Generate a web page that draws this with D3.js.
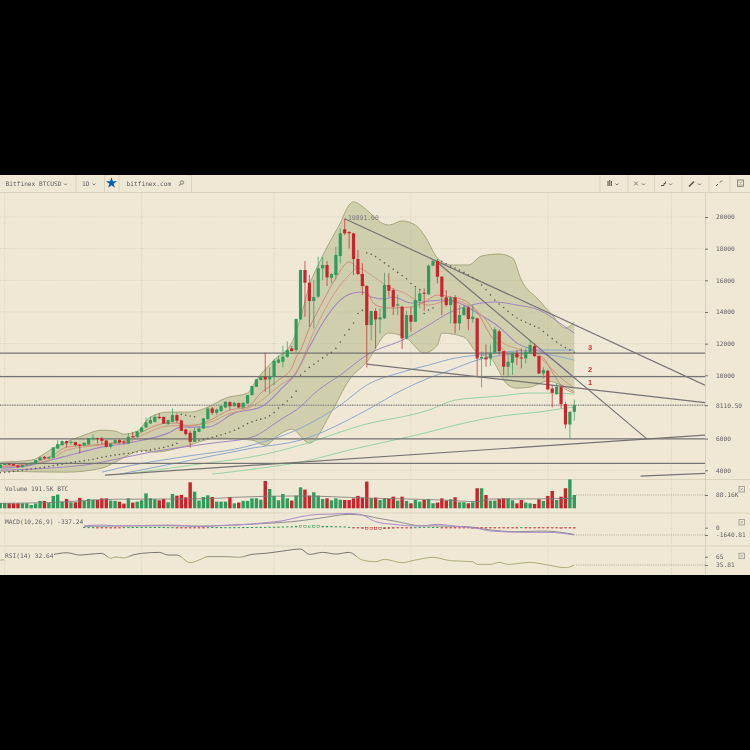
<!DOCTYPE html>
<html><head><meta charset="utf-8">
<script src="https://cdn.jsdelivr.net/npm/d3@7"></script>
<style>
html,body{margin:0;padding:0;background:#000;width:750px;height:750px;overflow:hidden}
svg{display:block;filter:blur(0.35px)}
text{font-family:"DejaVu Sans Mono",monospace;font-size:6.2px;fill:#5f5f5f}
</style></head><body>
<script>
const opens=[4157,4370,4410,4390,4300,4190,4330,4380,4430,4640,4850,4750,4790,5379,5589,5842,5737,5779,5632,5570,5632,6011,6032,6011,5884,5484,5716,5905,5821,5695,6158,6116,6432,6706,6960,7060,7380,7370,6916,7064,7485,7150,6580,6370,5800,6430,6640,7232,7906,7630,7738,7970,8300,8050,8240,7970,8220,8750,9276,9700,9908,9740,9908,10800,10856,11170,11698,11593,13530,16650,15850,14690,14964,16755,16965,16165,16333,17534,19220,19050,18967,17345,16397,15638,13173,14058,13530,13594,15700,15385,14400,14332,12330,13805,13384,14690,15217,15112,16924,17219,16228,14922,14437,14922,13278,13805,14290,13553,13595,11066,11130,11066,11424,12780,11520,10540,10793,11425,11130,11067,11425,11847,11215,10119,10288,9170,8813,9276,8180,6895,7696];
const closes=[4370,4400,4390,4300,4190,4330,4380,4430,4640,4810,4750,4830,5442,5653,5842,5695,5800,5589,5547,5737,6032,6053,5990,5863,5484,5695,5905,5758,5758,6116,6095,6453,6706,7022,7170,7380,7300,6950,7169,7485,7130,6495,6285,5800,6495,6640,7280,7906,7630,7840,8054,8328,8050,8265,7970,8265,8750,9320,9740,9950,9740,9908,10920,11000,11170,11593,11530,13552,16650,15850,14690,14943,16755,16965,16186,16397,17597,18967,18967,18970,17345,16397,15638,13173,14058,13530,13657,15701,15343,14331,14480,12330,13805,13384,14754,15175,15175,16924,17219,16228,14964,14437,14922,13278,13805,14290,13553,13700,11066,11172,11003,11424,12900,11520,10540,10856,11425,11130,11067,11488,11910,11215,10119,10330,9107,8897,9276,8180,6895,7696,8117];
const highs=[4400,4420,4470,4420,4340,4350,4400,4480,4650,4900,4900,4880,5450,5905,5890,5880,5860,5800,5680,5780,6040,6264,6060,6120,5900,5710,5920,5950,5900,6327,6430,6480,6730,7338,7400,7500,7600,7400,7200,7907,7600,7200,6620,6500,6700,6800,7300,7990,8000,7900,8100,8360,8370,8330,8290,8300,8770,9340,9760,9990,11425,10500,11000,11250,11870,12150,11850,13600,16680,17218,16340,16017,17490,17490,17220,16450,18120,19280,19891,19110,19000,17914,17070,15700,14060,14226,14226,16480,16439,15500,15100,14400,14050,14330,15533,15490,15490,17000,17324,17240,16260,15380,15000,15070,14440,14440,14370,14440,13650,11500,11950,11950,13025,12900,11520,11383,11450,11594,11700,11700,12226,12015,11250,10500,10350,9387,9487,9387,8330,7720,8475];
const lows=[4140,4340,4370,4280,4160,4170,4310,4360,4420,4620,4700,4720,4780,5350,5570,5442,5600,5530,5063,5530,5620,5880,5695,5632,5440,5380,5690,5690,5620,5650,6050,6070,6400,6690,6940,7040,7240,6930,6880,7040,7000,6480,6200,5440,5780,6400,6600,7190,7490,7500,7700,7930,7800,7990,7940,7860,8200,8730,9250,9680,8960,8855,9380,10750,10500,11100,11500,11400,13500,13700,13067,12960,14900,16000,15640,15800,16060,17070,18860,18019,16333,16330,15069,10500,12200,11700,12646,13560,14964,13800,13800,11660,12250,12750,13360,14230,14080,15080,16900,15807,13805,14330,13280,12646,12850,13750,12850,13320,9950,9233,10540,10600,11380,11300,10014,9908,10014,10646,10435,10750,11340,11150,10080,9800,9050,7970,8750,7907,6642,6010,7127];
const volumes=[35,35,33,33,33,33,33,22,31,49,49,35,82,91,44,62,40,40,69,49,62,57,55,66,66,51,49,44,31,66,38,44,53,99,66,60,53,62,40,95,84,88,73,172,110,51,75,86,75,44,44,44,75,33,38,49,49,66,66,57,181,128,82,53,95,66,51,84,139,124,84,106,84,62,66,53,66,57,55,55,66,82,71,177,66,71,55,66,62,77,51,77,49,33,55,44,55,62,33,38,66,51,60,73,40,40,33,40,133,133,88,51,51,62,66,66,53,33,55,38,33,29,60,49,82,115,55,77,133,191.5,88.16];
const volumeAvgIdx=[0,11,26,42,49,53,68,75,85,92,100,108,111,119,130];
const volumeAvg=[33,38,60,62,66,73,82,77,66,62,55,44,62,62,66];
const sarDots=[3850,3870,3900,3930,3960,4000,4040,4080,4120,4160,4200,4240,4290,4340,4390,4440,4490,4530,4570,4610,4650,4700,4760,4820,4870,4920,4960,5000,5040,5080,5120,5160,5200,5240,5290,5340,5390,5450,5520,5590,5700,7530,7480,7430,7380,5900,5960,6020,6090,6160,6230,6320,6420,6530,6650,6800,6950,7060,7160,7230,7300,7450,7650,7930,8150,8380,8620,9000,10014,10250,10500,10700,10900,11100,11280,11450,11700,12100,12540,12900,13300,13900,14100,17724,17650,17500,17300,17100,16900,16700,16500,16300,16100,15800,15600,15400,13900,14120,14250,17280,17200,17050,16900,16780,16650,16500,16350,16180,16018,15700,15400,15080,14754,14500,14280,14040,13820,13616,13480,13350,13220,13100,12984,12760,12540,12320,12100,11900,11750,11600,11460];
const bandUpperIdx=[0,7,12,19,23,26,28,31,34,38,43,47,51,56,58,62,66,68,70,72,74,77,79,80,83,86,88,91,94,96,99,102,106,109,113,116,118,122,125,128,130];
const bandUpper=[4516,4642,5400,6222,6538,6475,6285,6475,7360,7676,7676,7990,8560,8880,9700,10960,12040,13620,15700,16970,18100,19620,20760,20950,20440,19680,19490,19750,19490,18860,17410,16970,16970,17535,17660,17410,16020,14750,13800,12985,13360];
const bandLowerIdx=[0,15,23,26,29,32,35,42,49,57,60,63,66,70,75,79,83,88,92,96,99,100,105,108,111,115,117,120,124,127,130];
const bandLower=[3947,3884,4137,4516,4958,5274,5148,5527,6033,5906,5590,6222,6600,5716,7676,9700,10836,12670,12353,11405,11910,12670,12416,11405,11090,9382,9193,9256,9636,9382,8940];
const fastIdx=[0,7,12,15,23,29,32,38,40,43,47,52,56,59,63,66,67,68,70,73,76,79,81,83,85,88,93,96,99,102,105,108,111,114,117,120,123,125,127,130];
const fastAvg=[4263,4453,4958,5464,5653,5906,6412,6980,6980,6791,7107,7802,7992,8878,9698,10456,11152,11594,12984,14628,16144,17156,16650,15386,14438,14248,14312,14628,15070,14944,14754,13996,12542,11594,11215,11468,11088,10204,9382,8878];
const slowIdx=[0,7,12,15,23,29,32,38,43,47,52,56,59,63,67,71,75,79,81,84,88,91,97,102,106,110,113,118,122,127,130];
const slowAvg=[4230,4390,4770,5270,5600,5800,6200,6800,6850,6980,7600,7900,8400,9300,10204,12732,14880,16334,16776,16334,15576,15260,14438,14754,14438,13490,12226,11594,11152,9824,9192];
const purpleAIdx=[0,7,14,23,30,38,41,47,53,59,64,67,70,73,77,80,82,84,87,89,93,100,105,108,113,117,123,130];
const purpleA=[4136,4326,4832,5464,5780,6348,6728,6728,7612,7992,9256,10140,11784,13300,14754,15196,15260,14944,14817,14944,14564,14754,14438,13932,13048,12036,11404,9824];
const purpleBIdx=[0,19,23,34,48,57,64,67,72,77,83,92,97,102,105,112,117,122,128,130];
const purpleB=[4010,4326,4516,5148,5716,6096,7296,7802,9066,10014,11278,12352,13174,13996,14312,14628,14438,14122,13048,12668];
const blueAIdx=[23,30,41,57,68,77,83,91,97,103,108,114,122,130];
const blueA=[3884,4326,4832,5590,6664,8118,9382,10204,10646,11088,11278,11468,11594,11594];
const blueBIdx=[27,41,57,68,83,91,97,102,108,114,120,130];
const blueB=[3757,4516,5400,5906,7802,9066,9824,10330,10962,11278,11404,10962];
const greenAIdx=[30,45,59,68,82,97,103,113,120,125,130];
const greenA=[3820,4389,4958,5590,6854,7802,8434,8687,8878,8878,8814];
const greenBIdx=[48,59,68,79,97,105,115,122,128,130];
const greenB=[3757,4136,4516,5274,6412,6980,7486,7676,7928,7992];
const levels=[11405,9920,5990,4434];
const lastPrice=8110.5;
const trendA=[[78,19891],[159.6,9382]];
const trendB=[[98.9,17156],[146.5,5970]];
const trendC=[[83,10710],[159.6,8276]];
const trendD=[[23.7,3694],[159.6,6222]];
const trendE=[[145,3631],[159.6,3802]];
const priceTicks=[4000,6000,10000,12000,14000,16000,18000,20000];
const monthCandles=[1,32,62,93,124,152];
const macdIdx=[19,23,26,30,38,42,45,49,57,60,64,68,72,75,79,82,85,89,95,99,104,108,111,119,124,130];
const macdLine=[448,598,448,448,598,448,224,448,822,1120,1569,2465,2988,3063,3212,2839,1345,747,374,747,224,-149,-747,-1046,-1046,-1643];
const signalIdx=[19,38,45,53,60,66,72,79,82,85,90,95,100,106,110,117,123,130];
const signalLine=[300,448,374,598,975,1345,2091,2988,2839,2240,1345,448,374,224,-374,-896,-747,-1494];
const histStart=19;
const histogram=[60,40,30,-30,-40,-60,-50,-40,-30,40,50,60,70,80,90,90,80,70,60,40,30,-20,-60,-120,-200,-220,-180,-100,30,60,50,40,30,30,30,40,50,60,70,80,90,100,110,120,150,180,200,220,300,400,380,300,420,350,300,300,260,220,220,180,100,-50,-180,-300,-420,-500,-520,-480,-350,-300,-260,-200,-180,-120,-60,30,60,90,100,80,60,-30,-50,-30,-80,-120,-180,-220,-240,-260,-230,-260,-200,-180,-120,-90,-50,-30,-60,30,-40,-50,-60,-100,-140,-160,-170,-190,-200,-220,-240,-250];
const histHollow=[68,69,70,71,72,83,84,85,86,107,108,127];
const rsiIdx=[0,12,15,18,20,23,25,26,28,30,32,36,38,40,43,45,47,51,54,57,60,64,68,70,73,76,79,82,85,87,91,94,98,102,107,108,111,113,115,120,124,128,130];
const rsiVals=[53,73.2,79,70.8,73.2,76.7,59.2,63.8,60.5,70.8,76.7,80.2,70.8,70.8,44,53.3,65,65,62.7,73.2,76.7,84.9,91.9,73.2,80.2,74.3,80.2,53.3,47.5,55.7,44,53.3,62.7,51,47.5,38,38,45,38,45,35.8,26.5,35.8];
const volumeTick=88.16, macdTicks=[0,-1640.81], rsiTicks=[65,35.81];
const sideLabels=[["3",11620],["2",10240],["1",9360]];

const W=750,H=750;
const paper="#efe8d5",gridC="#d9d2b9",lineC="#767473",green="#2f9c5c",red="#c8242e";
const svg=d3.select("body").append("svg").attr("width",W).attr("height",H);
svg.append("rect").attr("width",W).attr("height",H).attr("fill","#000");
svg.append("rect").attr("y",175).attr("width",W).attr("height",400).attr("fill",paper);

const x=d3.scaleLinear().domain([0,130]).range([0.3,574.3]);
const y=d3.scaleLinear().domain([4000,20000]).range([470.3,217]);
const yVol=d3.scaleLinear().domain([0,191.5]).range([508.3,479.4]);
const yMacd=d3.scaleLinear().domain([-1640.81,0]).range([535,527.7]);
const yRsi=d3.scaleLinear().domain([35.81,65]).range([565,556.7]);

const defs=svg.append("defs");
defs.append("clipPath").attr("id","main").append("rect").attr("x",0).attr("y",193).attr("width",705).attr("height",285);

// grid
const grid=svg.append("g");
grid.selectAll("line.h").data(priceTicks).join("line").attr("x1",0).attr("x2",705).attr("y1",d=>y(d)).attr("y2",d=>y(d))
 .attr("stroke",gridC).attr("stroke-dasharray","1 1.5");
grid.selectAll("line.v").data(monthCandles).join("line").attr("x1",d=>x(d)).attr("x2",d=>x(d)).attr("y1",193).attr("y2",575)
 .attr("stroke",gridC).attr("stroke-dasharray","1 1.5");

// price pane
const main=svg.append("g").attr("clip-path","url(#main)");
const zip=(a,b)=>a.map((d,i)=>[d,b[i]]);
const up=zip(bandUpperIdx,bandUpper), lo=zip(bandLowerIdx,bandLower);
const curve=d3.curveMonotoneX;
const pl=d3.line().x(d=>x(d[0])).y(d=>y(d[1])).curve(curve);
// band: upper edge forward, lower edge back
main.append("path").attr("d",pl(up)+"L"+pl(lo.slice().reverse()).slice(1)+"Z").attr("fill","#8d9a5e").attr("fill-opacity",0.32);
main.append("path").attr("d",pl(up)).attr("fill","none").attr("stroke","#a5a87f").attr("stroke-width",1);
main.append("path").attr("d",pl(lo)).attr("fill","none").attr("stroke","#a5a87f").attr("stroke-width",1);

const maLine=(idx,vals,c,w)=>main.append("path").attr("d",pl(zip(idx,vals))).attr("fill","none").attr("stroke",c).attr("stroke-width",w);
maLine(greenAIdx,greenA,"#98d3a4",1);
maLine(greenBIdx,greenB,"#98d3a4",1);
maLine(blueAIdx,blueA,"#8fa9cc",1);
maLine(blueBIdx,blueB,"#8fa9cc",1);
maLine(purpleBIdx,purpleB,"#a287bd",1);
maLine(purpleAIdx,purpleA,"#a287bd",1.1);
maLine(slowIdx,slowAvg,"#d19a84",1);
maLine(fastIdx,fastAvg,"#cf8a78",1);

// horizontals and trend lines
main.selectAll("line.lvl").data(levels).join("line").attr("x1",0).attr("x2",705).attr("y1",d=>y(d)).attr("y2",d=>y(d)).attr("stroke",lineC).attr("stroke-width",1.2);
main.append("line").attr("x1",0).attr("x2",705).attr("y1",y(lastPrice)).attr("y2",y(lastPrice)).attr("stroke","#8f8d88").attr("stroke-width",1.6).attr("stroke-dasharray","1 0.7");
const tl=d3.line().x(d=>x(d[0])).y(d=>y(d[1]));
[trendA,trendB,trendC,trendD,trendE].forEach(t=>main.append("path").attr("d",tl(t)).attr("fill","none").attr("stroke",lineC).attr("stroke-width",1.2));

// dots
main.selectAll("circle.sar").data(sarDots).join("circle").attr("cx",(d,i)=>x(i)).attr("cy",d=>y(d)).attr("r",0.8).attr("fill","#5c5c50");

// candles
const idx=d3.range(closes.length);
const colorOf=i=>closes[i]>=opens[i]?green:red;
const c=main.append("g");
c.selectAll("line").data(idx).join("line").attr("x1",i=>x(i)).attr("x2",i=>x(i)).attr("y1",i=>y(highs[i])).attr("y2",i=>y(lows[i])).attr("stroke",colorOf).attr("stroke-width",0.9).attr("stroke-opacity",0.8);
c.selectAll("rect").data(idx).join("rect").attr("x",i=>x(i)-1.6).attr("width",3.2).attr("y",i=>y(Math.max(opens[i],closes[i]))).attr("height",i=>Math.max(1,Math.abs(y(opens[i])-y(closes[i])))).attr("fill",colorOf);

// side labels
main.selectAll("text.s").data(sideLabels).join("text").attr("x",590).attr("y",d=>y(d[1])).attr("text-anchor","middle")
 .style("font-family","'Liberation Sans',sans-serif").style("font-size","7.5px").style("font-weight","700").style("fill","#d1343a").text(d=>d[0]);
main.append("text").attr("x",348).attr("y",220).text("19891.00").style("fill","#7c7a72").style("font-size","6.4px");

// separators
[192.5,479.5,513,546].forEach(v=>svg.append("line").attr("x1",0).attr("x2",W).attr("y1",v).attr("y2",v).attr("stroke","#dbd4bc").attr("stroke-width",1));
svg.append("line").attr("x1",705.5).attr("x2",705.5).attr("y1",193).attr("y2",575).attr("stroke","#d6cfb7");

// volume
const vg=svg.append("g");
vg.selectAll("rect").data(idx).join("rect").attr("x",i=>x(i)-1.7).attr("width",3.4).attr("y",i=>yVol(volumes[i])).attr("height",i=>yVol(0)-yVol(volumes[i])).attr("fill",colorOf);
const ln=(sc)=>d3.line().x(d=>x(d[0])).y(d=>sc(d[1])).curve(curve);
vg.append("path").attr("d",ln(yVol)(zip(volumeAvgIdx,volumeAvg))).attr("fill","none").attr("stroke","#7a7a72").attr("stroke-width",0.8);
const dotted=(yy)=>svg.append("line").attr("x1",x(130)+2).attr("x2",705).attr("y1",yy).attr("y2",yy).attr("stroke","#b4ae98").attr("stroke-dasharray","1 1.2");
dotted(yVol(volumeTick)); dotted(yMacd(macdTicks[1])); dotted(yRsi(rsiTicks[1]));

// macd
const mg=svg.append("g");
const hist=histogram.map((v,k)=>[k+histStart,v]);
mg.selectAll("rect").data(hist).join("rect").attr("x",d=>x(d[0])-1.2).attr("width",2.4)
 .attr("y",d=>Math.min(yMacd(d[1]),yMacd(0))-0.4).attr("height",d=>Math.max(1,Math.abs(yMacd(d[1])-yMacd(0))))
 .attr("fill",d=>histHollow.includes(d[0])?"none":(d[1]>=0?green:red))
 .attr("stroke",d=>histHollow.includes(d[0])?(d[1]>=0?green:red):"none").attr("stroke-width",0.5);
mg.append("path").attr("d",ln(yMacd)(zip(signalIdx,signalLine))).attr("fill","none").attr("stroke","#77767a").attr("stroke-width",0.8);
mg.append("path").attr("d",ln(yMacd)(zip(macdIdx,macdLine))).attr("fill","none").attr("stroke","#a98cc9").attr("stroke-width",1);

// rsi: darker above the 65 mark
const rsiPath=ln(yRsi)(zip(rsiIdx,rsiVals));
defs.append("clipPath").attr("id","rhi").append("rect").attr("x",0).attr("y",546).attr("width",705).attr("height",yRsi(65)-546);
defs.append("clipPath").attr("id","rlo").append("rect").attr("x",0).attr("y",yRsi(65)).attr("width",705).attr("height",575-yRsi(65));
svg.append("path").attr("d",rsiPath).attr("clip-path","url(#rlo)").attr("fill","none").attr("stroke","#a3a56d").attr("stroke-width",0.9);
svg.append("path").attr("d",rsiPath).attr("clip-path","url(#rhi)").attr("fill","none").attr("stroke","#6b6a62").attr("stroke-width",0.9);

// axes
const axisStyle=g=>{g.select(".domain").remove();g.selectAll("line").attr("stroke","#77756d");g.selectAll("text").attr("fill","#5f5f5f");};
const axR=d3.axisRight(y).tickValues(priceTicks).tickSize(3).tickPadding(8).tickFormat(d3.format("d"));
svg.append("g").attr("transform","translate(705,0)").call(axR).call(axisStyle);
svg.append("g").attr("transform","translate(705,0)").call(d3.axisRight(y).tickValues([lastPrice]).tickSize(3).tickPadding(8).tickFormat(d3.format(".2f"))).call(axisStyle);
svg.append("g").attr("transform","translate(705,0)").call(d3.axisRight(yVol).tickValues([volumeTick]).tickSize(3).tickPadding(8).tickFormat(d=>d+"K")).call(axisStyle);
svg.append("g").attr("transform","translate(705,0)").call(d3.axisRight(yMacd).tickValues(macdTicks).tickSize(3).tickPadding(8).tickFormat(d=>d===0?"0":d.toFixed(2))).call(axisStyle);
svg.append("g").attr("transform","translate(705,0)").call(d3.axisRight(yRsi).tickValues(rsiTicks).tickSize(3).tickPadding(8).tickFormat(d=>""+d)).call(axisStyle);

// pane legends, on a patch of paper that hides the line beneath
const leg=(t,yy,w)=>{
  svg.append("rect").attr("x",4).attr("y",yy-6).attr("width",w).attr("height",8).attr("fill",paper).attr("fill-opacity",w>60?0:1);
  svg.append("text").attr("x",5).attr("y",yy).text(t);
};
leg("Volume 191.5K BTC",491,70);
leg("MACD(10,26,9) -337.24",524,78);
leg("RSI(14) 32.64",558,50);

// pane close boxes
[489,522,555.7].forEach(v=>{
  svg.append("rect").attr("x",739).attr("y",v-2.5).attr("width",5.5).attr("height",5.5).attr("fill","none").attr("stroke","#8d8b80").attr("stroke-width",0.7);
  svg.append("path").attr("d",`M740.5 ${v-1}l2.5 2.5M743 ${v-1}l-2.5 2.5`).attr("stroke","#8d8b80").attr("stroke-width",0.5);
});

// toolbar
const tb=svg.append("g");
[76,104.5,119,191.5,600,628,654.5,682,709,730].forEach(v=>tb.append("line").attr("x1",v).attr("x2",v).attr("y1",175).attr("y2",192).attr("stroke","#dbd4bc"));
const tt=(t,xx)=>tb.append("text").attr("x",xx).attr("y",186).text(t);
tt("Bitfinex BTCUSD",5.5); tt("1D",82); tt("bitfinex.com",126.5);
const chev=xx=>tb.append("path").attr("d",`M${xx} 183.5l1.5 1.5l1.5-1.5`).attr("fill","none").attr("stroke","#66645d").attr("stroke-width",0.8);
[64,92.5,615.5,642,669,698].forEach(chev);
tb.append("path").attr("d",d3.symbol(d3.symbolStar,38)()).attr("transform","translate(111.5,183)").attr("fill","#0b5cad");
tb.append("circle").attr("cx",182).attr("cy",182.5).attr("r",1.7).attr("fill","none").attr("stroke","#66645d").attr("stroke-width",0.8);
tb.append("path").attr("d","M180.6 184l-1.6 1.8").attr("stroke","#66645d");
tb.append("path").attr("d","M608 181v5M609.7 180v6M611.4 181v5").attr("stroke","#55534c").attr("stroke-width",1);
tb.append("path").attr("d","M634 181.5l4 4M638 181.5l-4 4").attr("stroke","#66645d").attr("stroke-width",0.8);
tb.append("path").attr("d","M661 185.5h3v-2h1.5v-2").attr("fill","none").attr("stroke","#55534c").attr("stroke-width",1);
tb.append("path").attr("d","M689 186.5l5-5").attr("stroke","#55534c").attr("stroke-width",1.6);
tb.append("path").attr("d","M716 186l2-2M722 180.5l-2 2").attr("stroke","#55534c").attr("stroke-width",1);
tb.append("rect").attr("x",737.5).attr("y",180).attr("width",6).attr("height",6.5).attr("fill","none").attr("stroke","#77756d").attr("stroke-width",0.8);
tb.append("path").attr("d","M738.5 181.5l2 1.5l2-1.5M738.5 185h4").attr("fill","none").attr("stroke","#77756d").attr("stroke-width",0.6);
</script>
</body></html>
